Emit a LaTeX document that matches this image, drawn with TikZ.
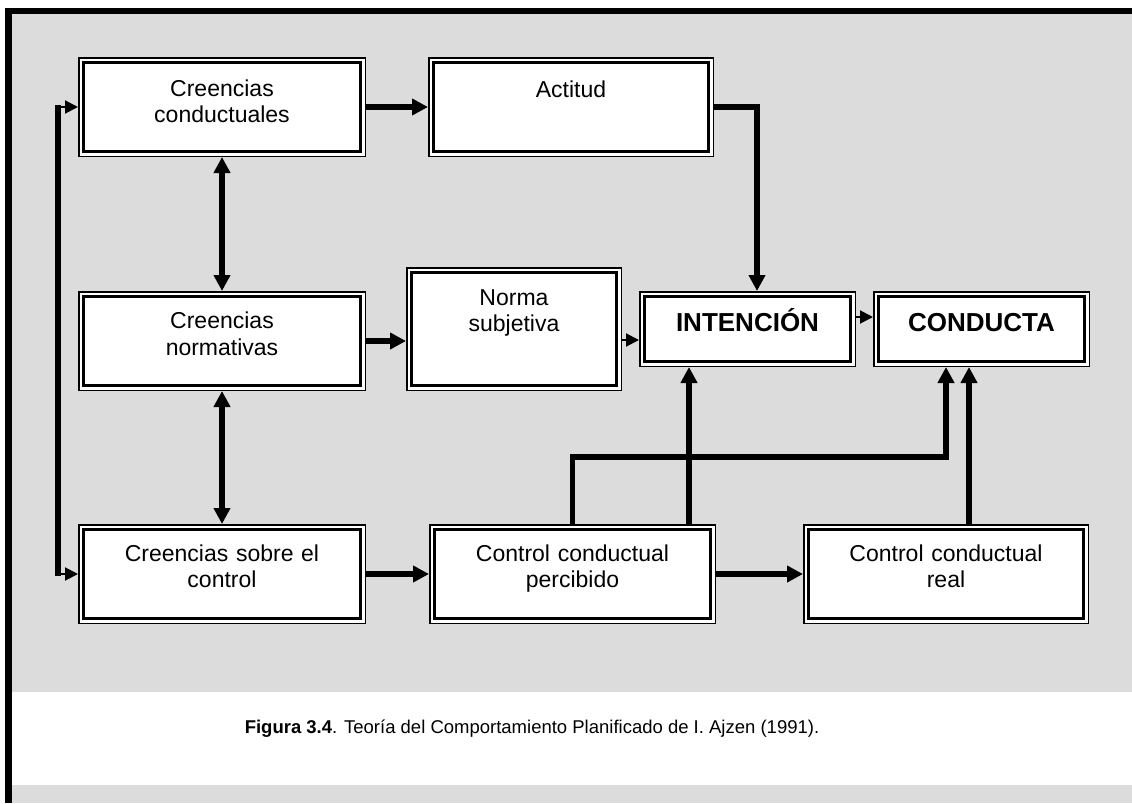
\documentclass[tikz,border=0pt]{standalone}
\usepackage{fontspec}
\setmainfont{Liberation Sans}
\usetikzlibrary{arrows.meta,calc}
\definecolor{panel}{RGB}{220,220,220}

\begin{document}
\begin{tikzpicture}[x=1pt,y=-1pt,
  box/.style={draw=black, line width=1.5pt, fill=white, rectangle, inner sep=0pt,
    path picture={\draw[line width=2.6pt]
      ([shift={(4.8pt,-4.8pt)}]path picture bounding box.north west) rectangle
      ([shift={(-4.8pt,4.8pt)}]path picture bounding box.south east);}},
  lbl/.style={font=\fontsize{23}{26.5}\selectfont, text width=280pt, align=center,
    inner sep=0pt, anchor=base},
  big/.style={font=\fontsize{26}{30}\selectfont\bfseries, inner sep=0pt, anchor=base},
  thickarrow/.style={line width=5.5pt, -{Triangle[length=16pt,width=16pt]}},
  dblarrow/.style={line width=5.5pt, {Triangle[length=16pt,width=16pt]}-{Triangle[length=16pt,width=16pt]}},
  thinarrow/.style={line width=2pt, -{Triangle[length=13pt,width=13pt]}},
  link/.style={line width=6pt}
]
\useasboundingbox (0,0) rectangle (1132,803);

% panel, caption band and frame
\fill[panel] (8.5,11) rectangle (1132,692);
\fill[white] (8.5,692) rectangle (1132,785);
\fill[panel] (8.5,785) rectangle (1132,803);
\draw[line width=6.5pt] (8.5,803) -- (8.5,11) -- (1132,11);

% boxes
\node[box, minimum width=286.5pt, minimum height=98.5pt] (cc) at (222,107) {};
\node[box, minimum width=286.5pt, minimum height=98.5pt] (cn) at (222,341) {};
\node[box, minimum width=286.5pt, minimum height=98.5pt] (cs) at (222,574) {};
\node[box, minimum width=284.5pt, minimum height=98.5pt] (act) at (571,107) {};
\node[box, minimum width=214.5pt, minimum height=122.5pt] (sn) at (514,329) {};
\node[box, minimum width=215.5pt, minimum height=74.5pt] (int) at (747.5,329) {};
\node[box, minimum width=215.5pt, minimum height=74.5pt] (cond) at (981.5,329) {};
\node[box, minimum width=285.5pt, minimum height=98.5pt] (pc) at (572.5,574) {};
\node[box, minimum width=284.5pt, minimum height=98.5pt] (rc) at (946,574) {};

% box texts
\node[lbl] (cc-t) at ([yshift=-39pt]cc.north) {Creencias\\conductuales};
\node[lbl] (cn-t) at ([yshift=-37.5pt]cn.north) {Creencias\\normativas};
\node[lbl] (cs-t) at ([yshift=-37pt]cs.north) {Creencias sobre el\\control};
\node[lbl] (act-t) at ([yshift=-40pt]act.north) {Actitud};
\node[lbl] (sn-t) at ([yshift=-38pt]sn.north) {Norma\\subjetiva};
\node[big] (int-t) at ([yshift=-40pt]int.north) {INTENCIÓN};
\node[big] (cond-t) at ([yshift=-40pt]cond.north) {CONDUCTA};
\node[lbl] (pc-t) at ([yshift=-37pt]pc.north) {Control conductual\\percibido};
\node[lbl] (rc-t) at ([yshift=-37pt]rc.north) {Control conductual\\real};

% connector anchor points
\coordinate (lt) at ([xshift=-20pt]cc.west);
\coordinate (lb) at ([xshift=-20pt]cs.west);
\coordinate (ai) at ([xshift=9.5pt]int.north);
\coordinate (hb) at (572.5,457);
\coordinate (cb) at ([xshift=-35.5pt]cond.south);

% connectors
\draw[link] ([yshift=2pt]lt) -- ([yshift=-2pt]lb);
\draw[thinarrow] ([xshift=-2.5pt]lt) -- (cc.west);
\draw[thinarrow] ([xshift=-2.5pt]lb) -- (cs.west);

\draw[dblarrow] (cc.south) -- (cn.north);
\draw[dblarrow] (cn.south) -- (cs.north);

\draw[thickarrow] (cc.east) -- (act.west);
\draw[thickarrow] (cn.east) -- (cn.east -| sn.west);
\draw[thickarrow] (cs.east) -- (pc.west);
\draw[thickarrow] (pc.east) -- (rc.west);

\draw[thickarrow] (act.east) -| (ai);
\draw[thinarrow] ([yshift=-11pt]sn.east) -- ([yshift=-11pt]int.west);
\draw[thinarrow] ([yshift=12pt]int.east) -- ([yshift=12pt]cond.west);

\draw[thickarrow] ([xshift=116.5pt]pc.north) -- ([xshift=116.5pt]pc.north |- int.south);
\draw[thickarrow] (pc.north) -- (hb) -| (cb);
\draw[thickarrow] ([xshift=23pt]rc.north) -- ([xshift=23pt]rc.north |- cond.south);

% caption
\node[font=\fontsize{18.5}{22}\selectfont, inner sep=0pt, anchor=base] (cap) at (532,733)
  {\textbf{Figura 3.4}. Teoría del Comportamiento Planificado de I. Ajzen (1991).};
\end{tikzpicture}
\end{document}
